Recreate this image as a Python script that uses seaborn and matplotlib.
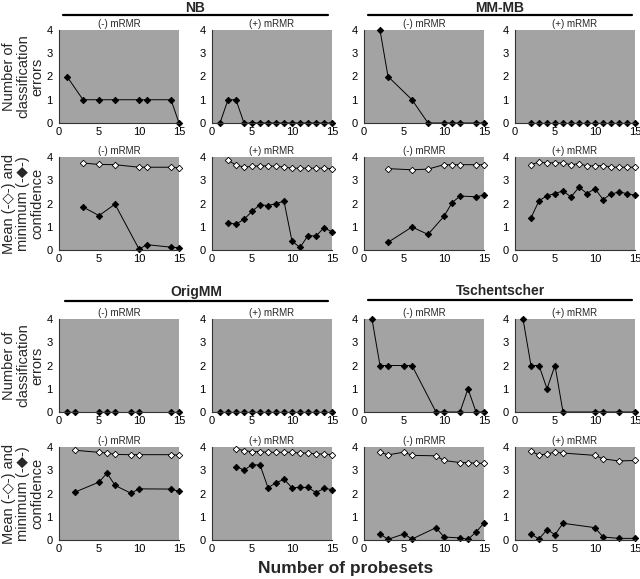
import numpy as np
import matplotlib
matplotlib.use('Agg')
import matplotlib.pyplot as plt
import seaborn as sns

sns.set_style("white")
plt.rcParams['font.family'] = ['Liberation Sans', 'DejaVu Sans']

# ---- data: classification errors ----
nb_err_neg_x = [1, 3, 5, 7, 10, 11, 14, 15]
nb_err_neg = [2, 1, 1, 1, 1, 1, 1, 0]
nb_err_pos_x = [1, 2, 3, 4, 5, 6, 7, 8, 9, 10, 11, 12, 13, 14, 15]
nb_err_pos = [0, 1, 1, 0, 0, 0, 0, 0, 0, 0, 0, 0, 0, 0, 0]

mm_err_neg_x = [2, 3, 6, 8, 10, 11, 12, 14, 15]
mm_err_neg = [4, 2, 1, 0, 0, 0, 0, 0, 0]
mm_err_pos_x = [2, 3, 4, 5, 6, 7, 8, 9, 10, 11, 12, 13, 14, 15]
mm_err_pos = [0, 0, 0, 0, 0, 0, 0, 0, 0, 0, 0, 0, 0, 0]

om_err_neg_x = [1, 2, 5, 6, 7, 9, 10, 14, 15]
om_err_neg = [0, 0, 0, 0, 0, 0, 0, 0, 0]
om_err_pos_x = [1, 2, 3, 4, 5, 6, 7, 8, 9, 10, 11, 12, 13, 14, 15]
om_err_pos = [0, 0, 0, 0, 0, 0, 0, 0, 0, 0, 0, 0, 0, 0, 0]

ts_err_neg_x = [1, 2, 3, 5, 6, 9, 10, 12, 13, 14, 15]
ts_err_neg = [4, 2, 2, 2, 2, 0, 0, 0, 1, 0, 0]
ts_err_pos_x = [1, 2, 3, 4, 5, 6, 10, 11, 13, 15]
ts_err_pos = [4, 2, 2, 1, 2, 0, 0, 0, 0, 0]

# ---- data: mean / minimum confidence ----
nb_conf_neg_x = [3, 5, 7, 10, 11, 14, 15]
nb_mean_neg = [3.74, 3.68, 3.67, 3.56, 3.56, 3.56, 3.53]
nb_min_neg = [1.85, 1.48, 1.97, 0.04, 0.23, 0.12, 0.10]
nb_conf_pos_x = [2, 3, 4, 5, 6, 7, 8, 9, 10, 11, 12, 13, 14, 15]
nb_mean_pos = [3.85, 3.66, 3.56, 3.60, 3.62, 3.62, 3.60, 3.57, 3.52, 3.52, 3.52, 3.52, 3.52, 3.50]
nb_min_pos = [1.17, 1.11, 1.32, 1.66, 1.95, 1.91, 2.00, 2.10, 0.38, 0.11, 0.62, 0.60, 0.96, 0.78]

mm_conf_neg_x = [3, 6, 8, 10, 11, 12, 14, 15]
mm_mean_neg = [3.50, 3.45, 3.48, 3.67, 3.67, 3.67, 3.67, 3.67]
mm_min_neg = [0.33, 0.99, 0.67, 1.45, 2.03, 2.32, 2.29, 2.36]
mm_conf_pos_x = [2, 3, 4, 5, 6, 7, 8, 9, 10, 11, 12, 13, 14, 15]
mm_mean_pos = [3.67, 3.78, 3.74, 3.76, 3.74, 3.67, 3.71, 3.62, 3.62, 3.63, 3.57, 3.56, 3.56, 3.56]
mm_min_pos = [1.38, 2.12, 2.33, 2.43, 2.54, 2.28, 2.70, 2.43, 2.64, 2.17, 2.41, 2.49, 2.43, 2.35]

om_conf_neg_x = [2, 5, 6, 7, 9, 10, 14, 15]
om_mean_neg = [3.86, 3.77, 3.74, 3.68, 3.67, 3.67, 3.67, 3.65]
om_min_neg = [2.06, 2.49, 2.88, 2.35, 2.01, 2.20, 2.19, 2.09]
om_conf_pos_x = [3, 4, 5, 6, 7, 8, 9, 10, 11, 12, 13, 14, 15]
om_mean_pos = [3.93, 3.84, 3.80, 3.80, 3.77, 3.77, 3.77, 3.77, 3.74, 3.74, 3.70, 3.70, 3.67]
om_min_pos = [3.16, 3.01, 3.23, 3.23, 2.25, 2.46, 2.61, 2.25, 2.26, 2.26, 2.04, 2.22, 2.17]

ts_conf_neg_x = [2, 3, 5, 6, 9, 10, 12, 13, 14, 15]
ts_mean_neg = [3.78, 3.66, 3.78, 3.64, 3.62, 3.42, 3.33, 3.33, 3.30, 3.30]
ts_min_neg = [0.26, 0.03, 0.26, 0.04, 0.53, 0.13, 0.09, 0.03, 0.34, 0.73]
ts_conf_pos_x = [2, 3, 4, 5, 6, 10, 11, 13, 15]
ts_mean_pos = [3.81, 3.66, 3.70, 3.78, 3.74, 3.64, 3.49, 3.40, 3.42]
ts_min_pos = [0.26, 0.04, 0.45, 0.23, 0.72, 0.53, 0.13, 0.07, 0.07]

groups = ['NB', 'MM-MB', 'OrigMM', 'Tschentscher']
subtitles = ['(-) mRMR', '(+) mRMR']
err_label = 'Number of\nclassification\nerrors'
conf_label = 'Mean (-\u25c7-) and\nminimum (-\u25c6-)\nconfidence'

# (row, col) -> panel data
err_panels = {
    (0, 0): (nb_err_neg_x, nb_err_neg), (0, 1): (nb_err_pos_x, nb_err_pos),
    (0, 2): (mm_err_neg_x, mm_err_neg), (0, 3): (mm_err_pos_x, mm_err_pos),
    (2, 0): (om_err_neg_x, om_err_neg), (2, 1): (om_err_pos_x, om_err_pos),
    (2, 2): (ts_err_neg_x, ts_err_neg), (2, 3): (ts_err_pos_x, ts_err_pos),
}
conf_panels = {
    (1, 0): (nb_conf_neg_x, nb_mean_neg, nb_min_neg), (1, 1): (nb_conf_pos_x, nb_mean_pos, nb_min_pos),
    (1, 2): (mm_conf_neg_x, mm_mean_neg, mm_min_neg), (1, 3): (mm_conf_pos_x, mm_mean_pos, mm_min_pos),
    (3, 0): (om_conf_neg_x, om_mean_neg, om_min_neg), (3, 1): (om_conf_pos_x, om_mean_pos, om_min_pos),
    (3, 2): (ts_conf_neg_x, ts_mean_neg, ts_min_neg), (3, 3): (ts_conf_pos_x, ts_mean_pos, ts_min_pos),
}

W, H = 640, 579
fig = plt.figure(figsize=(W / 100, H / 100), dpi=100)

col_left = [59, 212, 364, 515]
col_w = 120
row_top = [30, 157, 319, 447]
row_h = 93
bg = '#a3a3a3'


def make_ax(r, c):
    ax = fig.add_axes([col_left[c] / W, 1 - (row_top[r] + row_h) / H, col_w / W, row_h / H])
    ax.set_facecolor(bg)
    ax.set_xlim(0, 15)
    ax.set_ylim(0, 4)
    ax.set_xticks([0, 5, 10, 15])
    ax.set_yticks([0, 1, 2, 3, 4])
    for s in ['top', 'right']:
        ax.spines[s].set_visible(False)
    for s in ['left', 'bottom']:
        ax.spines[s].set_color('#333333')
        ax.spines[s].set_linewidth(0.8)
    ax.tick_params(axis='both', labelsize=8, length=2.5, width=0.6, pad=2,
                   direction='out', colors='#333333', labelcolor='black')
    ax.tick_params(axis='x', length=0, pad=3)
    ax.text(0.5, 1.015, subtitles[c % 2], transform=ax.transAxes,
            ha='center', va='bottom', fontsize=7)
    return ax


line_kw = dict(color='black', linewidth=0.7, marker='D', markersize=3.3,
               markeredgecolor='black', markeredgewidth=0.6, clip_on=False)

for (r, c), (x, y) in err_panels.items():
    ax = make_ax(r, c)
    sns.lineplot(x=x, y=y, ax=ax, markerfacecolor='black', **line_kw)
    ax.set_xlabel('')
    ax.set_ylabel('')

for (r, c), (x, mean, mn) in conf_panels.items():
    ax = make_ax(r, c)
    sns.lineplot(x=x, y=mn, ax=ax, markerfacecolor='black', **line_kw)
    sns.lineplot(x=x, y=mean, ax=ax, markerfacecolor='white', **line_kw)
    ax.set_xlabel('')
    ax.set_ylabel('')

# group titles with rule lines
group_pos = [(63, 328, 8, 15), (368, 632, 8, 15), (65, 328, 292, 301), (368, 632, 291, 300)]
for name, (x0, x1, ty, ly) in zip(groups, group_pos):
    fig.text((x0 + x1) / 2 / W, 1 - ty / H, name, ha='center', va='center',
             fontsize=10, fontweight='bold')
    fig.add_artist(plt.Line2D([x0 / W, x1 / W], [1 - ly / H, 1 - ly / H],
                              color='black', linewidth=1.6))

# y labels
for r in range(4):
    lab = err_label if r % 2 == 0 else conf_label
    yc = row_top[r] + row_h / 2
    fig.text(23 / W, 1 - yc / H, lab, rotation=90, ha='center', va='center',
             multialignment='center', fontsize=10.5, linespacing=1.0)

fig.text(346 / W, 1 - 569 / H, 'Number of probesets', ha='center', va='center',
         fontsize=12.5, fontweight='bold')

fig.savefig('out.png', dpi=100)
